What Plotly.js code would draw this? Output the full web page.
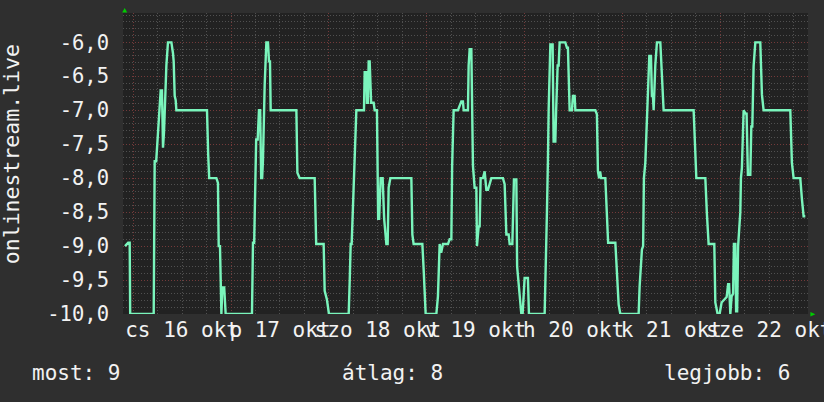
<!DOCTYPE html>
<html>
<head>
<meta charset="utf-8">
<script src="https://cdn.plot.ly/plotly-3.0.1.min.js"></script>
<style>html,body{margin:0;padding:0;background:#2f2f2f;}</style>
</head>
<body>
<div id="chart" style="width:824px;height:402px;"></div>
<script>
// ---- data ----
const startDay = "2025-10-16";            // midnight of the first labelled day
const dayLabels = ["cs 16 okt", "p 17 okt", "szo 18 okt", "v 19 okt", "h 20 okt", "k 21 okt", "sze 22 okt"];
const yTicks = [-10, -9.5, -9, -8.5, -8, -7.5, -7, -6.5, -6];
const yTickLabels = ["-10,0", "-9,5", "-9,0", "-8,5", "-8,0", "-7,5", "-7,0", "-6,5", "-6,0"];
const seriesName = "onlinestream.live";
const statLabels = ["most", "átlag", "legjobb"];
const statValues = [9, 8, 6];

// hours since startDay 00:00
const hours = [
  -2.01, -1.23, -0.86, -0.74, 5.03, 5.27, 5.64, 6.01, 6.33, 6.74, 7.06, 7.31, 7.55, 8.14, 8.53, 9.37, 9.76, 9.93, 10.18, 10.42, 10.59,
  18.10, 18.39, 18.64, 20.40, 20.79, 20.97, 21.29, 21.63, 21.87, 22.32, 22.68,
  29.13, 29.38, 29.67, 29.92, 30.16, 30.53, 30.85, 31.14, 31.39, 31.63, 31.83, 32.25, 32.66, 33.06, 33.30, 33.55, 33.72,
  40.02, 40.27, 40.83, 44.51, 44.88, 46.71, 46.96, 47.52, 48.01,
  52.85, 53.09, 53.34, 53.58, 53.95, 54.32, 54.73, 56.60, 56.77, 57.19, 57.33, 57.58, 57.75, 58.00, 58.36, 58.98, 59.22, 59.78,
  60.08, 60.32, 60.69, 61.18, 61.55, 62.09, 62.41, 62.65, 63.07, 68.22, 68.47, 68.78, 70.92, 71.24, 71.73,
  74.35, 74.74, 75.16, 75.53, 75.97, 77.20, 77.61, 78.03, 78.22, 78.59, 79.65, 80.48, 80.87, 81.05, 82.10, 82.27, 82.52, 82.93,
  83.33, 83.74, 84.16, 84.31, 84.73, 84.97, 85.21, 85.78, 86.20, 86.61, 87.01, 87.42, 87.84, 90.68, 91.10, 91.52, 92.08, 92.33,
  92.99, 93.38, 93.97, 94.16, 94.78, 95.19, 95.51, 96.00, 96.81, 97.06,
  100.91, 101.15, 101.47, 101.72, 101.89, 102.31, 102.87, 103.11, 103.53, 103.73, 104.10, 104.34, 104.59, 105.98, 106.38, 106.62,
  107.04, 107.60, 107.85, 108.27, 108.44, 113.34, 113.73, 113.98, 114.27, 114.52, 114.76, 115.79, 116.19, 116.48, 118.25, 118.69,
  119.06, 119.47, 123.96, 124.21, 124.77, 125.06, 125.26, 125.60, 126.00, 126.58, 126.98, 127.22, 127.47, 127.64, 128.05, 128.45,
  129.28, 129.67, 130.09, 137.45, 137.69, 138.11, 140.32, 140.56, 140.71, 141.13, 142.52, 142.77, 143.33, 143.82, 144.31, 145.54,
  145.91, 146.15, 146.45, 146.77, 147.13, 147.33, 147.68, 147.87, 148.12, 148.36, 148.90, 149.05, 149.29, 149.71, 150.20, 150.44,
  150.76, 151.35, 151.60, 151.84, 152.16, 152.58, 153.80, 154.20, 154.61, 161.16, 161.55, 161.97, 163.61, 164.00, 164.42, 164.84
];
const values = [
  -9.0, -8.95, -8.95, -10, -10, -7.75, -7.75, -7.43, -7.0, -6.71, -6.71, -7.55, -7.33, -6.34, -6.0, -6.0, -6.16, -6.28, -6.79, -6.85, -7.0,
  -7.0, -7.65, -8.0, -8.0, -8.07, -9.0, -9.0, -10, -9.61, -9.61, -10,
  -10, -8.95, -8.95, -8.0, -7.43, -7.43, -7.0, -7.0, -8.0, -8.0, -7.73, -6.62, -6.0, -6.0, -6.28, -6.28, -7.0,
  -7.0, -7.92, -8.0, -8.0, -8.97, -8.97, -9.66, -9.79, -10,
  -10, -9.54, -8.97, -8.97, -8.3, -7.53, -7.0, -7.0, -6.44, -6.44, -6.89, -6.89, -6.28, -6.28, -6.89, -6.89, -7.0, -7.0,
  -8.6, -8.6, -8.0, -8.0, -8.6, -8.97, -8.97, -8.14, -8.0, -8.0, -8.83, -8.97, -8.97, -9.35, -10,
  -10, -9.74, -8.97, -9.1, -8.97, -8.97, -8.9, -8.9, -7.82, -7.0, -7.0, -6.87, -6.87, -7.0, -7.0, -6.34, -6.1, -6.1,
  -7.82, -8.14, -8.14, -9.0, -8.71, -8.71, -8.0, -8.0, -7.9, -8.17, -8.17, -8.1, -8.0, -8.0, -8.09, -8.83, -8.83, -8.97,
  -8.97, -8.02, -8.02, -9.3, -9.74, -10, -10, -9.47, -9.47, -10,
  -10, -9.5, -8.5, -7.73, -7.0, -6.03, -6.03, -7.46, -7.46, -7.0, -6.34, -6.34, -6.0, -6.0, -6.08, -6.08,
  -7.0, -7.0, -6.79, -6.79, -7.0, -7.0, -7.06, -7.9, -8.0, -7.9, -8.0, -8.0, -8.5, -8.95, -8.95, -9.5,
  -9.86, -10, -10, -9.59, -9.05, -9.0, -8.0, -7.77, -7.0, -6.2, -6.2, -6.79, -6.79, -7.0, -6.34, -6.0,
  -6.0, -6.55, -7.0, -7.0, -7.36, -8.0, -8.0, -8.5, -8.53, -8.97, -8.97, -9.83, -10, -10, -9.83, -9.75,
  -9.56, -9.56, -10, -9.74, -9.7, -8.97, -8.97, -9.96, -9.96, -9.0, -8.5, -8.0, -7.85, -7.0, -7.05, -7.05,
  -7.95, -7.95, -7.24, -7.24, -6.35, -6.0, -6.0, -6.77, -7.0, -7.0, -7.77, -8.0, -8.0, -8.3, -8.56, -8.56
];

// ---- conversion to the date axis ----
const HOUR = 3600000;
const base = Date.parse(startDay + "T00:00:00Z");
const xs = hours.map(h => base + h * HOUR);
const xRange = [base - 2.5 * HOUR, base + 165.5 * HOUR];
const labelPos = dayLabels.map((_, i) => base + (i * 24 + 12) * HOUR);

const FONT = "DejaVu Sans Mono";
const TXT = "#f2f2f2";
const gridMajor = "#743a3a";
const gridMinor = "#505050";
const DASH = "1px,2px";

const trace = {
  type: "scatter", mode: "lines", x: xs, y: values, name: seriesName,
  line: { color: "#7af5bc", width: 2.4 }, hoverinfo: "skip"
};
// empty carrier so that the day-label axis is drawn
const labelCarrier = { type: "scatter", mode: "lines", x: [], y: [], xaxis: "x2", yaxis: "y", hoverinfo: "skip", showlegend: false };

const stats = statLabels.map((l, i) => l + ": " + statValues[i]);

const layout = {
  width: 824, height: 402,
  paper_bgcolor: "#2f2f2f", plot_bgcolor: "#222222",
  margin: { l: 123, r: 16, t: 13, b: 88, pad: 0 },
  showlegend: false,
  font: { family: FONT, size: 21, color: TXT },
  xaxis: {
    type: "date", range: xRange, tickmode: "linear", tick0: startDay, dtick: 24 * HOUR,
    showticklabels: false, ticks: "", showgrid: true, gridcolor: gridMajor, griddash: DASH, gridwidth: 1,
    zeroline: false, showline: false, fixedrange: true,
    minor: { tickmode: "linear", tick0: startDay, dtick: 6 * HOUR, showgrid: true, gridcolor: gridMinor, griddash: DASH, gridwidth: 1, ticks: "" }
  },
  xaxis2: {
    type: "date", range: xRange, overlaying: "x", side: "bottom", anchor: "y",
    tickmode: "array", tickvals: labelPos, ticktext: dayLabels, tickangle: 0,
    ticklabeloverflow: "allow", showgrid: false, zeroline: false, ticks: "", ticklen: 0,
    ticklabelstandoff: 1, fixedrange: true,
    tickfont: { family: FONT, size: 21, color: TXT }
  },
  yaxis: {
    range: [-10, -5.568], tickmode: "array", tickvals: yTicks, ticktext: yTickLabels,
    showgrid: true, gridcolor: gridMajor, griddash: DASH, gridwidth: 1, zeroline: false, ticks: "",
    ticklabelstandoff: 13, tickfont: { family: FONT, size: 20.5, color: TXT }, fixedrange: true,
    minor: { tickmode: "linear", tick0: -10, dtick: 0.1, showgrid: true, gridcolor: gridMinor, griddash: DASH, gridwidth: 1, ticks: "" }
  },
  shapes: [
    { type: "path", xref: "paper", yref: "paper", path: "M -0.0012 1.002 L 0.0061 1.002 L 0.0025 1.0166 Z", fillcolor: "#00cc00", line: { width: 0 } },
    { type: "path", xref: "paper", yref: "paper", path: "M 1.0035 0.0066 L 1.0035 -0.008 L 1.0108 -0.0007 Z", fillcolor: "#00cc00", line: { width: 0 } }
  ],
  annotations: [
    { text: seriesName, xref: "paper", yref: "paper", x: -0.1625, y: 0.53, textangle: -90, showarrow: false,
      xanchor: "center", yanchor: "middle", font: { family: FONT, size: 21.5, color: TXT } },
    { text: stats[0], xref: "paper", yref: "paper", x: -0.0673, y: -0.195, showarrow: false, xanchor: "center", yanchor: "middle", font: { family: FONT, size: 21, color: TXT } },
    { text: stats[1], xref: "paper", yref: "paper", x: 0.3934, y: -0.195, showarrow: false, xanchor: "center", yanchor: "middle", font: { family: FONT, size: 21, color: TXT } },
    { text: stats[2], xref: "paper", yref: "paper", x: 0.8813, y: -0.195, showarrow: false, xanchor: "center", yanchor: "middle", font: { family: FONT, size: 21, color: TXT } }
  ]
};

Plotly.newPlot("chart", [trace, labelCarrier], layout, { displayModeBar: false, staticPlot: true });
</script>
</body>
</html>
